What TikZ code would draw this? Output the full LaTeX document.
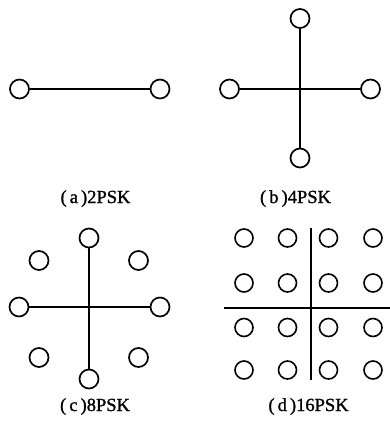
\documentclass[tikz,border=0pt]{standalone}
\usepackage{fontspec}
\setmainfont{Liberation Serif}[BoldFont={Liberation Serif},BoldFeatures={FakeBold=1.2}]
\begin{document}
\begin{tikzpicture}[x=1pt,y=-1pt,
  pt/.style={circle,draw,line width=1.7pt,minimum size=19pt,inner sep=0pt},
  smallpt/.style={circle,draw,line width=1.6pt,minimum size=18pt,inner sep=0pt},
  axis/.style={line width=1.8pt},
  caption/.style={anchor=base,inner sep=0pt,font=\fontsize{18.5}{21}\selectfont\bfseries}]
\useasboundingbox (0,0) rectangle (390,423);

% (a) 2PSK
\node[pt] (a1) at (19.5,89) {};
\node[pt] (a2) at (160,89) {};
\draw[axis] (a1) -- (a2);
\node[caption] (la) at (95.5,203) {(\,a\,)2PSK};

% (b) 4PSK
\node[pt] (bt) at (300,18.5) {};
\node[pt] (bb) at (300,158) {};
\node[pt] (bl) at (229.5,89) {};
\node[pt] (br) at (370.5,89) {};
\draw[axis] (bl) -- (br);
\draw[axis] (bt) -- (bb);
\node[caption] (lb) at (295.5,203) {(\,b\,)4PSK};

% (c) 8PSK
\node[pt] (ct) at (89,238) {};
\node[pt] (cb) at (89,379) {};
\node[pt] (cl) at (19,307) {};
\node[pt] (cr) at (160,307) {};
\node[pt] (c1) at (39,260.5) {};
\node[pt] (c2) at (138.5,260.5) {};
\node[pt] (c3) at (39,357.5) {};
\node[pt] (c4) at (138.5,357.5) {};
\draw[axis] (cl) -- (cr);
\draw[axis] (ct) -- (cb);
\node[caption] (lc) at (95,411) {(\,c\,)8PSK};

% (d) 16PSK grid
\foreach \c/\x in {1/244,2/287.5,3/328.5,4/373}
  \foreach \r/\y in {1/238,2/283,3/327.5,4/370}
    \node[smallpt] (d\r\c) at (\x,\y) {};
\coordinate (dh1) at (224,308);
\coordinate (dh2) at (390,308);
\coordinate (dv1) at (311,228);
\coordinate (dv2) at (311,380);
\draw[axis] (dh1) -- (dh2);
\draw[axis] (dv1) -- (dv2);
\node[caption] (ld) at (308.5,411) {(\,d\,)16PSK};
\end{tikzpicture}
\end{document}
